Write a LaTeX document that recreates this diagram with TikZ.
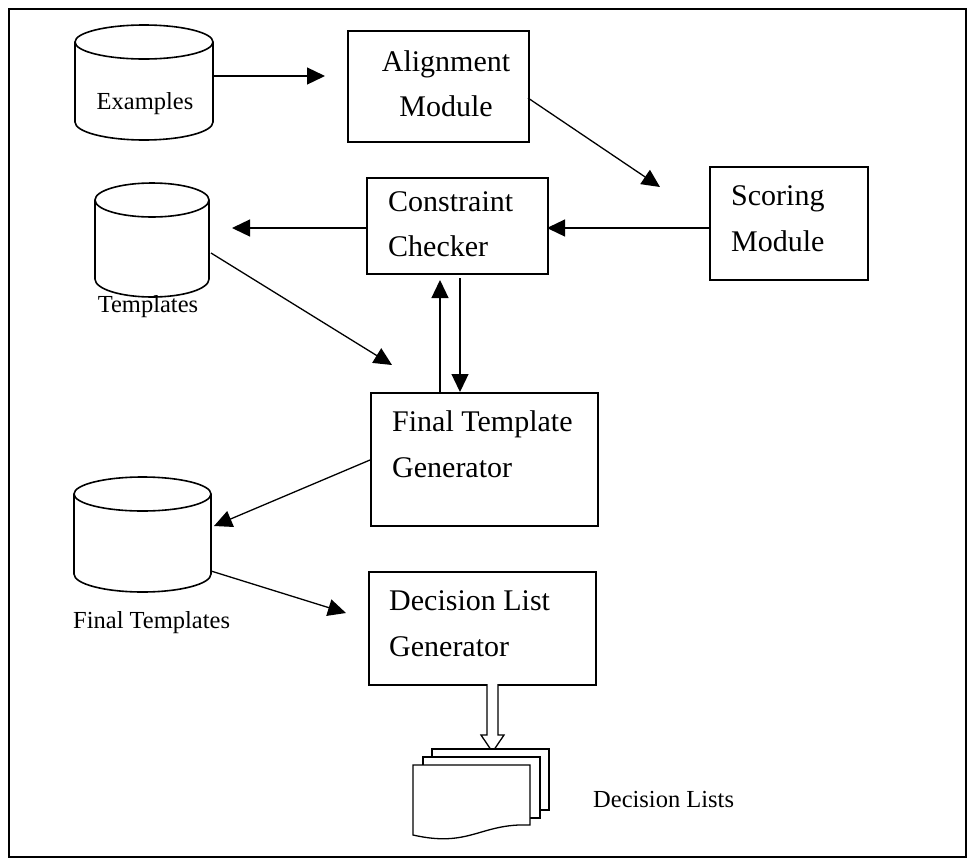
\documentclass[tikz,border=0pt]{standalone}
\usepackage{fontspec}
\setmainfont{Liberation Serif}
\usetikzlibrary{arrows.meta}
\begin{document}
\begin{tikzpicture}[x=1pt,y=-1pt,
  box/.style={draw, line width=1.6pt, rectangle, inner sep=0pt, anchor=north west},
  btxt/.style={anchor=base west, inner sep=0pt, font=\fontsize{30}{36}\selectfont},
  ltxt/.style={anchor=base, inner sep=0pt, font=\fontsize{24.5}{30}\selectfont},
  conn/.style={line width=1.3pt, -{Triangle[length=18pt,width=17pt]}},
  cyl/.style={line width=1.6pt},
  area/.style={inner sep=0pt, anchor=north west},
]
\useasboundingbox (0,0) rectangle (970,863);
\node[draw, line width=1.6pt, minimum width=957pt, minimum height=848pt, anchor=north west, inner sep=0pt] (frame) at (8,8) {};

% cylinders
\newcommand\dbcyl[5]{% name, left, right, top-ellipse centre y, bottom-ellipse centre y
  \pgfmathsetmacro\rx{(#3-#2)/2}
  \pgfmathsetmacro\cx{(#3+#2)/2}
  \draw[cyl, fill=white] (#2,#4) -- (#2,#5) arc[start angle=180, end angle=0, x radius=\rx, y radius=18] -- (#3,#4);
  \draw[cyl] (\cx,#4) ellipse[x radius=\rx, y radius=17];
  \node[area, minimum width=#3-#2, minimum height=#5-#4+36] (#1) at (#2,#4-17) {};
}
\dbcyl{ex}{75}{213}{42}{122}
\dbcyl{tpl}{95}{209}{200}{279}
\dbcyl{ftpl}{74}{211}{494}{574}

\node[ltxt] (ex-t) at (145,109) {Examples};
\node[ltxt] (tpl-t) at (148,312) {Templates};
\node[ltxt, anchor=base west] (ftpl-t) at (73,628) {Final Templates};

% boxes
\node[box, minimum width=181pt, minimum height=111pt] (align) at (347,30) {};
\node[btxt, anchor=base] (align-t1) at (446,71) {Alignment};
\node[btxt, anchor=base] (align-t2) at (446,116) {Module};

\node[box, minimum width=158pt, minimum height=113pt] (score) at (709,166) {};
\node[btxt] (score-t1) at (731,205) {Scoring};
\node[btxt] (score-t2) at (731,251) {Module};

\node[box, minimum width=181pt, minimum height=96pt] (cc) at (366,177) {};
\node[btxt] (cc-t1) at (388,211) {Constraint};
\node[btxt] (cc-t2) at (388,256) {Checker};

\node[box, minimum width=227pt, minimum height=133pt] (ftg) at (370,392) {};
\node[btxt] (ftg-t1) at (392,431) {Final Template};
\node[btxt] (ftg-t2) at (392,477) {Generator};

\node[box, minimum width=227pt, minimum height=113pt] (dlg) at (368,571) {};
\node[btxt] (dlg-t1) at (389,610) {Decision List};
\node[btxt] (dlg-t2) at (389,656) {Generator};

% connector end points
\coordinate (a1) at (213,76);   \coordinate (a2) at (325,76);
\coordinate (b1) at (528,98);   \coordinate (b2) at (660,187);
\coordinate (c1) at (709,228);  \coordinate (c2) at (547,228);
\coordinate (d1) at (366,228);  \coordinate (d2) at (232,228);
\coordinate (e1) at (211,253);  \coordinate (e2) at (392,365);
\coordinate (f1) at (440,392);  \coordinate (f2) at (440,280);
\coordinate (g1) at (460,278);  \coordinate (g2) at (460,392);
\coordinate (h1) at (370,460);  \coordinate (h2) at (214,526);
\coordinate (i1) at (211,571);  \coordinate (i2) at (346,613);

\draw[conn] (a1) -- (a2);
\draw[conn] (b1) -- (b2);
\draw[conn] (c1) -- (c2);
\draw[conn] (d1) -- (d2);
\draw[conn] (e1) -- (e2);
\draw[conn] (f1) -- (f2);
\draw[conn] (g1) -- (g2);
\draw[conn] (h1) -- (h2);
\draw[conn] (i1) -- (i2);

% hollow arrow
\draw[line width=1.3pt, fill=white] (487,684) -- (487,735) -- (481,735) -- (492.5,752) -- (504,735) -- (498,735) -- (498,684);

% documents
\draw[line width=1.3pt, fill=white] (432,810) -- (432,749) -- (549,749) -- (549,810) -- cycle;
\draw[line width=1.3pt, fill=white] (423,818) -- (423,757) -- (540,757) -- (540,818) -- cycle;
\draw[line width=1.3pt, fill=white] (413,835) -- (413,765) -- (530,765) -- (530,825) .. controls (480,823) and (470,848) .. (413,835) -- cycle;
\node[area, minimum width=136pt, minimum height=92pt] (docs) at (413,749) {};
\node[ltxt, anchor=base west] (docs-t) at (593,807) {Decision Lists};
\end{tikzpicture}
\end{document}
